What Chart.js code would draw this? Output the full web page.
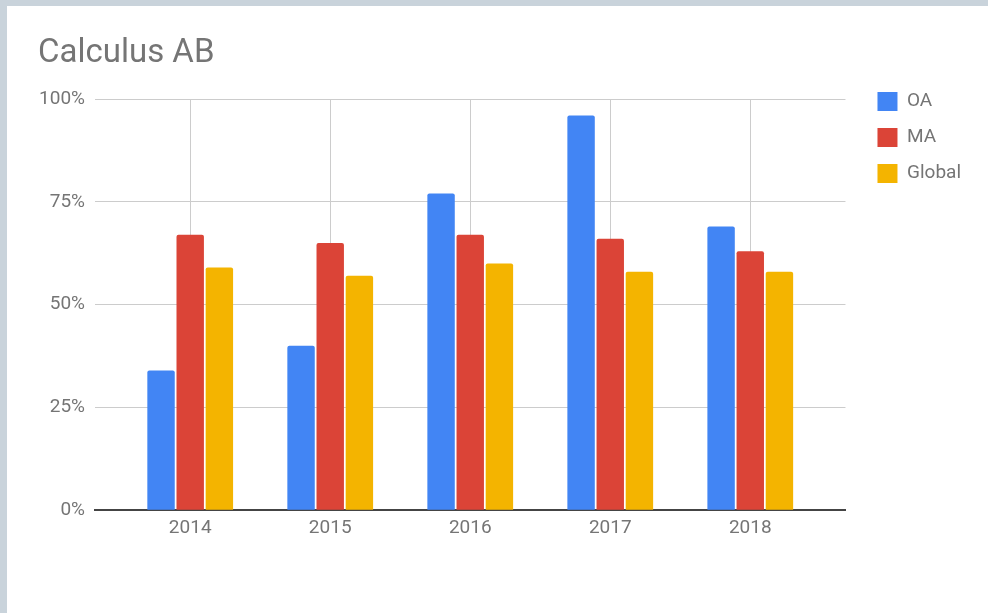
<!DOCTYPE html>
<html>
<head>
<meta charset="utf-8">
<script src="https://cdn.jsdelivr.net/npm/chart.js@4.4.1/dist/chart.umd.min.js"></script>
<style>
  html, body { margin: 0; padding: 0; width: 988px; height: 613px; overflow: hidden; background: #c9d3db; }
  #panel { position: absolute; left: 7px; top: 6px; right: 0; bottom: 0; background: #ffffff; }
  #c { position: absolute; left: 0; top: 0; }
</style>
</head>
<body>
<div id="panel"></div>
<canvas id="c" width="988" height="613"></canvas>
<script>
const chartTitle = 'Calculus AB';
const years = [2014, 2015, 2016, 2017, 2018];
const seriesNames = ['OA', 'MA', 'Global'];
const oaValues = [34, 40, 77, 96, 69];
const maValues = [67, 65, 67, 66, 63];
const globalValues = [59, 57, 60, 58, 58];
const yTickValues = [0, 25, 50, 75, 100];
const seriesColors = ['#4285f4', '#db4437', '#f4b400'];

Chart.defaults.font.family = 'Roboto';
const grey = '#757575';

const seriesValues = [oaValues, maValues, globalValues];
const datasets = seriesNames.map((name, i) => ({
  label: name,
  data: seriesValues[i],
  backgroundColor: seriesColors[i],
  borderWidth: 0,
  borderRadius: { topLeft: 2, topRight: 2, bottomLeft: 0, bottomRight: 0 },
  borderSkipped: 'start',
  categoryPercentage: 0.625,
  barPercentage: 0.94
}));

new Chart(document.getElementById('c'), {
  type: 'bar',
  data: { labels: years, datasets },
  options: {
    responsive: false,
    devicePixelRatio: 1,
    animation: false,
    layout: { padding: { left: 38, top: 20, right: 17, bottom: 66 } },
    plugins: {
      title: {
        display: true,
        text: chartTitle,
        align: 'start',
        color: grey,
        font: { size: 33, weight: 'normal' },
        padding: { top: 14, bottom: 25.4 }
      },
      legend: {
        position: 'right',
        align: 'start',
        title: { display: true, text: '', font: { size: 10 }, padding: { top: 43, bottom: 0 } },
        labels: {
          color: grey,
          font: { size: 19 },
          boxWidth: 20,
          boxHeight: 19,
          padding: 17
        }
      },
      tooltip: { enabled: false }
    },
    scales: {
      x: {
        type: 'linear',
        offset: false,
        min: years[0] - 0.68,
        max: years[years.length - 1] + 0.68,
        afterBuildTicks: (s) => { s.ticks = years.map(v => ({ value: v })); },
        grid: { offset: false, color: '#cccccc', lineWidth: 1, drawTicks: false },
        border: { display: true, color: '#444444', width: 2 },
        ticks: {
          color: grey,
          font: { size: 19 },
          padding: 7,
          autoSkip: false,
          maxRotation: 0,
          callback: (v) => String(v)
        }
      },
      y: {
        min: 0,
        max: 100,
        afterBuildTicks: (s) => { s.ticks = yTickValues.map(v => ({ value: v })); },
        afterFit: (s) => { s.width = 57; },
        grid: { color: '#cccccc', lineWidth: 1, drawTicks: false },
        border: { display: false },
        ticks: {
          color: grey,
          font: { size: 19 },
          padding: 10,
          callback: (v) => v + '%'
        }
      },
      spacer: {
        type: 'linear',
        position: 'right',
        display: true,
        grid: { display: false },
        border: { display: false },
        ticks: { display: false },
        afterFit: (s) => { s.width = 15; }
      }
    }
  }
});
</script>
</body>
</html>
